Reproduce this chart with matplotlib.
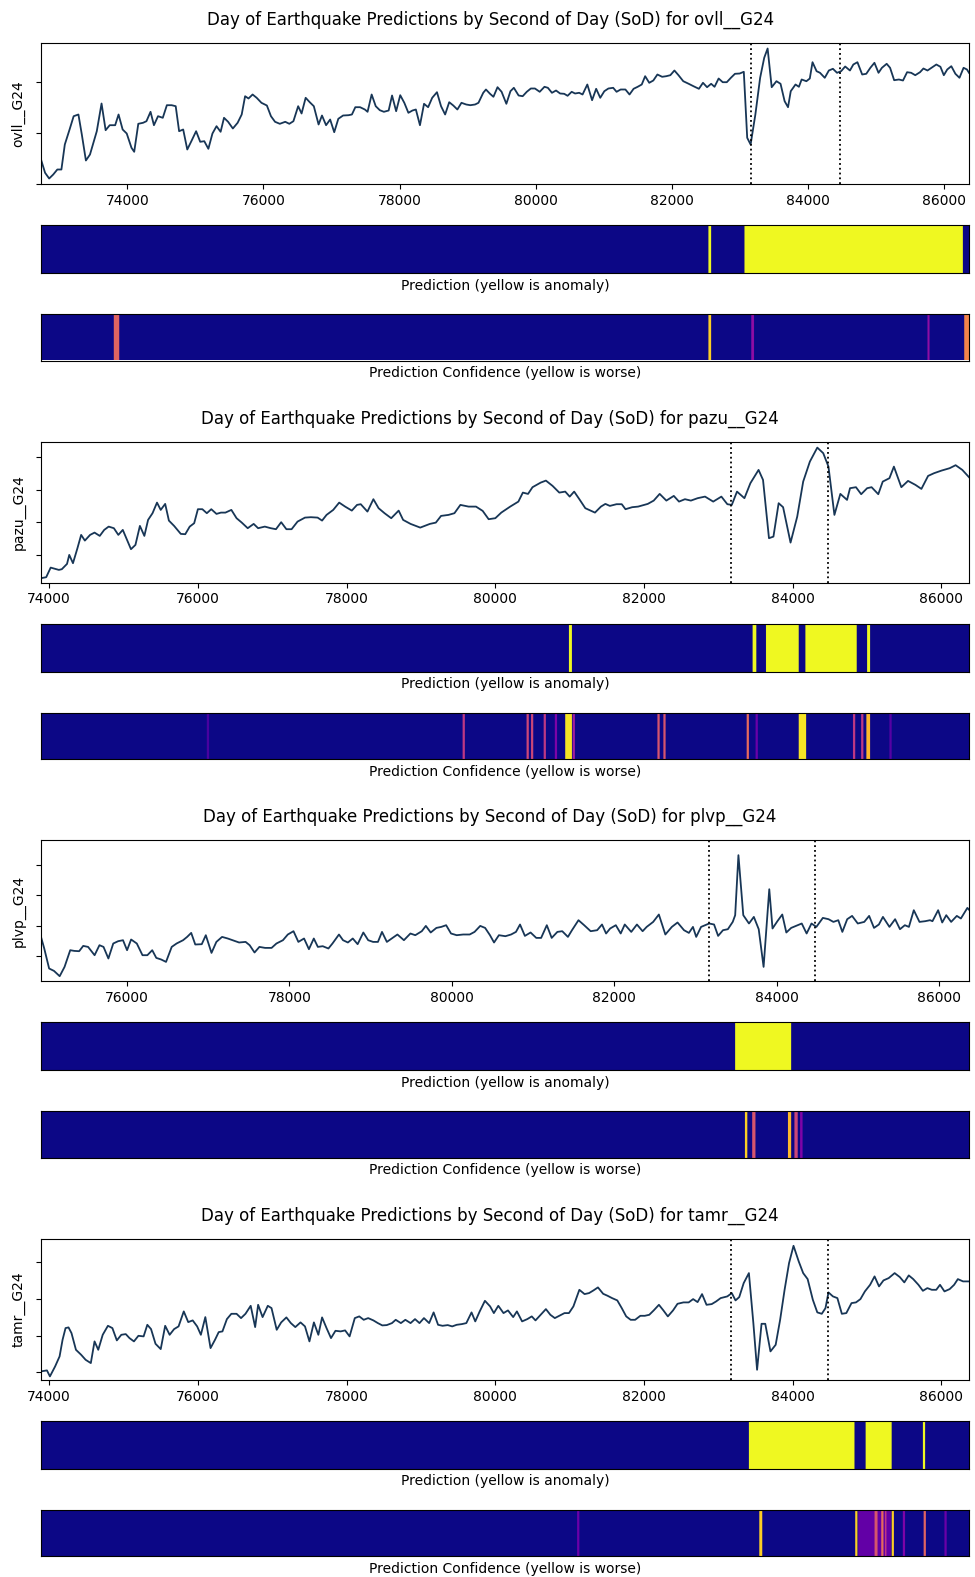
import numpy as np
import matplotlib.pyplot as plt

stations = ['ovll', 'pazu', 'plvp', 'tamr']
quake_window = [83170, 84470]

# --- ovll ---
ovll_sod = [72730, 72790, 72850, 72910, 72970, 73030, 73080, 73150, 73210, 73280,
            73330, 73390, 73450, 73550, 73620, 73680, 73740, 73820, 73870, 73930,
            73990, 74060, 74100, 74160, 74230, 74280, 74340, 74390, 74450, 74520,
            74580, 74650, 74710, 74760, 74820, 74880, 74940, 75010, 75070, 75130,
            75190, 75250, 75310, 75370, 75420, 75480, 75550, 75620, 75680, 75730,
            75780, 75840, 75900, 75970, 76050, 76110, 76170, 76240, 76320, 76380,
            76440, 76510, 76560, 76620, 76680, 76740, 76810, 76860, 76920, 76980,
            77040, 77100, 77170, 77250, 77300, 77350, 77420, 77490, 77530, 77590,
            77650, 77710, 77770, 77840, 77890, 77950, 78010, 78070, 78130, 78190,
            78240, 78300, 78360, 78420, 78480, 78550, 78610, 78670, 78730, 78790,
            78850, 78910, 78980, 79040, 79110, 79160, 79230, 79270, 79330,
            79380, 79440, 79500, 79570, 79630, 79680, 79750, 79810, 79870, 79930,
            79990, 80060, 80130, 80180, 80240, 80300, 80360, 80420, 80470, 80530,
            80580, 80640, 80690, 80760, 80830, 80890, 80950, 81010, 81070, 81140,
            81190, 81250, 81320, 81380, 81440, 81500, 81560, 81610, 81670, 81730,
            81790, 81860, 81920, 81980, 82040, 82100, 82170, 82250, 82320, 82400,
            82460, 82520, 82580, 82630, 82690, 82750, 82810, 82870, 82930, 83000,
            83060, 83110, 83160, 83230, 83300, 83360, 83410, 83470, 83540, 83600,
            83660, 83710, 83750, 83820, 83870, 83910, 83980, 84030, 84070, 84130,
            84180, 84250, 84310, 84370, 84430, 84490, 84550, 84620, 84670, 84730,
            84800, 84860, 84920, 84980, 85040, 85090, 85160, 85210, 85270, 85340,
            85400, 85460, 85520, 85580, 85650, 85700, 85760, 85830, 85890, 85950,
            86000, 86050, 86110, 86170, 86230, 86290, 86340, 86370]
ovll_val = [24.5, 11.2, 5.5, 9.5, 14.5, 14.5, 39.5, 54.5, 67.8, 69.5,
            49.5, 23.5, 29.5, 52.8, 80.5, 53.8, 58.8, 58.8, 69.5, 54.5,
            50.5, 36.2, 32.2, 60.2, 61.2, 62.8, 72.2, 58.8, 67.8, 66.2,
            78.8, 78.8, 77.8, 52.8, 54.5, 34.5, 42.8, 52.8, 42.2, 42.8,
            35.2, 50.5, 57.8, 52.2, 66.2, 62.2, 55.5, 61.2, 69.5, 87.8,
            85.5, 89.5, 86.2, 81.2, 78.5, 67.8, 62.2, 60.2, 62.2, 60.2,
            62.8, 77.8, 70.5, 86.2, 81.8, 77.8, 59.5, 68.5, 58.8, 64.5,
            51.8, 65.2, 68.5, 68.8, 69.5, 76.8, 76.8, 74.5, 72.2, 89.5,
            77.8, 73.8, 72.2, 73.5, 88.5, 72.8, 88.8, 81.2, 71.2, 73.5,
            74.5, 58.8, 80.2, 76.8, 86.2, 91.8, 77.8, 69.5, 81.8, 78.5,
            74.5, 81.2, 79.5, 78.8, 79.5, 81.2, 91.2, 94.5, 90.2,
            87.2, 96.8, 92.2, 80.2, 92.8, 96.2, 88.5, 87.8, 92.2, 95.5,
            95.5, 92.2, 97.2, 96.2, 91.2, 93.5, 90.5, 90.2, 88.2, 92.2,
            90.5, 91.2, 89.5, 99.5, 83.8, 95.2, 86.2, 92.8, 95.5, 96.2,
            92.2, 94.5, 94.5, 89.5, 95.2, 97.2, 99.5, 107.8, 101.2, 103.5,
            109.5, 107.2, 107.8, 108.8, 113.5, 108.8, 102.8, 100.2, 97.8, 95.2,
            101.2, 96.8, 100.2, 97.2, 105.5, 101.8, 101.8, 106.2, 110.2, 110.5,
            112.2, 46.2, 39.5, 69.5, 106.2, 126.2, 135.5, 96.8, 102.8, 100.2,
            82.8, 76.8, 92.8, 99.5, 97.2, 104.5, 102.8, 105.5, 121.8, 112.8,
            111.2, 106.2, 113.5, 115.2, 111.2, 112.8, 117.5, 113.5, 119.5, 121.8,
            109.5, 110.2, 116.2, 121.2, 111.2, 116.2, 120.2, 116.2, 103.8, 104.5,
            103.5, 111.8, 111.2, 108.8, 111.8, 115.5, 113.5, 116.8, 119.5, 117.2,
            108.8, 114.5, 117.8, 110.2, 106.2, 116.2, 114.5, 111.2]

# --- pazu ---
pazu_sod = [73890, 73960, 74020, 74130, 74170, 74240, 74270, 74320, 74380, 74430,
            74480, 74550, 74610, 74680, 74740, 74800, 74870, 74930, 74990, 75100,
            75160, 75220, 75280, 75330, 75390, 75450, 75500, 75560, 75610, 75680,
            75770, 75830, 75890, 75950, 76000, 76060, 76120, 76180, 76250, 76310,
            76370, 76450, 76520, 76590, 76670, 76750, 76810, 76900, 76980, 77050,
            77120, 77190, 77260, 77340, 77440, 77520, 77610, 77670, 77730, 77820,
            77900, 77980, 78070, 78140, 78190, 78280, 78360, 78430, 78510, 78600,
            78700, 78760, 78860, 78990, 79120, 79200, 79270, 79370, 79450, 79530,
            79640, 79740, 79830, 79910, 80000, 80080, 80200, 80310, 80370, 80440,
            80500, 80610, 80680, 80770, 80860, 80940, 81000, 81060, 81130, 81210,
            81340, 81420, 81480, 81540, 81630, 81700, 81750, 81840, 81920, 82050,
            82130, 82210, 82300, 82400, 82470, 82550, 82630, 82720, 82820, 82930,
            83040, 83120, 83180, 83250, 83350, 83430, 83540, 83600, 83680, 83740,
            83810, 83870, 83970, 84060, 84140, 84230, 84330, 84410, 84480, 84560,
            84640, 84730, 84770, 84850, 84920, 85000, 85060, 85150, 85210, 85300,
            85360, 85460, 85550, 85650, 85730, 85820, 85900, 86000, 86110, 86190,
            86280, 86370]
pazu_val = [4.4, 5.4, 15.0, 12.7, 13.4, 18.7, 27.7, 19.4, 34.4, 47.7,
            42.0, 47.7, 50.0, 46.7, 52.7, 56.0, 54.4, 47.7, 52.7, 33.4,
            37.7, 56.7, 46.7, 62.7, 69.4, 80.0, 72.7, 78.7, 62.0, 56.7,
            48.7, 48.4, 56.0, 59.4, 73.4, 73.4, 69.4, 73.4, 68.7, 70.0,
            70.0, 72.7, 64.4, 60.0, 54.4, 58.7, 54.4, 56.0, 54.4, 53.4,
            60.4, 53.4, 53.4, 61.0, 65.0, 65.4, 65.0, 62.0, 67.7, 72.7,
            80.0, 76.0, 72.0, 77.7, 78.4, 71.0, 83.4, 74.4, 69.4, 64.4,
            72.0, 62.7, 58.7, 55.0, 58.7, 60.0, 66.7, 67.7, 69.4, 77.7,
            76.0, 76.0, 71.7, 63.4, 64.4, 70.0, 76.0, 81.0, 90.0, 88.7,
            95.4, 100.0, 102.0, 96.7, 90.0, 91.0, 86.0, 91.0, 83.4, 74.4,
            70.0, 76.0, 78.7, 76.7, 78.4, 78.4, 73.4, 75.4, 76.0, 78.7,
            82.0, 88.7, 82.0, 86.7, 81.0, 83.4, 82.0, 84.4, 86.0, 81.0,
            86.0, 78.4, 77.7, 91.0, 84.4, 99.4, 112.7, 102.7, 44.4, 46.0,
            79.4, 75.4, 40.0, 66.0, 101.0, 121.0, 135.0, 129.4, 116.0, 67.7,
            88.7, 82.7, 94.4, 95.4, 88.4, 94.4, 95.4, 88.4, 101.0, 104.4,
            116.0, 95.4, 101.7, 97.7, 93.7, 106.7, 109.4, 112.0, 114.4, 117.4,
            112.7, 105.4]

# --- plvp ---
plvp_sod = [74940, 74980, 75040, 75100, 75170, 75230, 75300, 75350, 75410, 75460,
            75520, 75600, 75660, 75710, 75770, 75830, 75890, 75950, 76000, 76050,
            76120, 76190, 76250, 76310, 76360, 76420, 76480, 76550, 76610, 76690,
            76740, 76790, 76840, 76920, 76970, 77040, 77100, 77170, 77240, 77300,
            77380, 77460, 77510, 77570, 77630, 77700, 77780, 77840, 77920, 77980,
            78050, 78110, 78180, 78240, 78300, 78350, 78410, 78480, 78530, 78610,
            78660, 78720, 78780, 78840, 78910, 78970, 79030, 79090, 79140, 79200,
            79260, 79330, 79410, 79490, 79550, 79630, 79680, 79740, 79810, 79870,
            79930, 79990, 80060, 80140, 80220, 80280, 80350, 80410, 80470, 80520,
            80580, 80660, 80730, 80790, 80840, 80900, 80970, 81040, 81100, 81170,
            81230, 81300, 81360, 81430, 81480, 81560, 81630, 81710, 81790, 81850,
            81900, 81950, 82020, 82080, 82130, 82210, 82280, 82350, 82400, 82480,
            82550, 82630, 82710, 82780, 82860, 82920, 82970, 83010, 83070, 83170,
            83230, 83280, 83340, 83400, 83460, 83490, 83530, 83590, 83660, 83720,
            83780, 83840, 83910, 83950, 84010, 84070, 84120, 84180, 84260, 84310,
            84370, 84430, 84490, 84570, 84640, 84700, 84760, 84810, 84870, 84930,
            85000, 85080, 85140, 85200, 85260, 85310, 85390, 85460, 85520, 85580,
            85630, 85690, 85760, 85830, 85890, 85920, 85990, 86040, 86090, 86150,
            86220, 86270, 86350, 86370]
plvp_val = [44.3, 32.7, 12.7, 10.3, 5.0, 14.3, 31.0, 30.3, 30.0, 35.3,
            34.3, 26.0, 36.0, 34.3, 22.7, 37.7, 40.0, 41.0, 31.0, 41.7,
            37.7, 26.0, 26.0, 31.0, 23.3, 21.7, 19.3, 34.3, 37.7, 41.0,
            44.3, 48.3, 36.7, 37.0, 46.0, 28.3, 39.3, 44.3, 42.7, 41.0,
            38.7, 39.3, 36.0, 28.7, 34.3, 33.3, 33.3, 37.7, 41.0, 46.7,
            50.0, 39.3, 42.7, 32.0, 42.7, 34.3, 35.0, 32.7, 37.7, 46.7,
            41.0, 38.7, 42.7, 37.0, 48.7, 41.0, 39.3, 39.3, 49.3, 39.3,
            42.7, 46.7, 41.0, 47.7, 46.0, 50.0, 55.3, 48.7, 53.3, 54.3,
            56.0, 47.7, 46.0, 46.7, 46.7, 49.3, 55.3, 53.3, 46.0, 38.7,
            46.0, 45.0, 46.7, 49.3, 56.7, 45.3, 48.7, 43.3, 43.3, 56.0,
            43.3, 49.3, 50.0, 44.3, 51.0, 61.0, 56.0, 50.0, 51.0, 56.7,
            47.7, 52.7, 56.0, 47.7, 56.7, 49.3, 56.7, 50.0, 54.3, 59.3,
            66.7, 46.7, 54.3, 58.7, 51.0, 48.3, 54.3, 44.3, 54.3, 57.7,
            56.7, 45.3, 51.0, 52.0, 59.3, 66.0, 126.0, 66.0, 57.7, 64.3,
            52.0, 14.3, 92.0, 52.7, 60.0, 66.7, 48.7, 53.3, 56.0, 57.7,
            47.7, 57.7, 54.3, 63.3, 62.0, 59.3, 61.0, 49.3, 62.0, 65.3,
            57.7, 59.3, 65.3, 53.3, 56.7, 64.3, 54.3, 62.0, 52.0, 56.0,
            54.3, 71.0, 59.3, 60.0, 61.0, 60.0, 71.0, 58.7, 66.0, 59.3,
            65.3, 62.7, 73.3, 71.5]

# --- tamr ---
tamr_sod = [73890, 73970, 74010, 74080, 74140, 74180, 74220, 74260, 74300, 74360,
            74430, 74490, 74560, 74610, 74660, 74720, 74790, 74850, 74910, 74970,
            75030, 75080, 75140, 75200, 75270, 75320, 75370, 75430, 75500, 75560,
            75620, 75680, 75740, 75810, 75870, 75930, 75990, 76040, 76100, 76170,
            76230, 76280, 76330, 76390, 76450, 76520, 76580, 76640, 76710, 76770,
            76810, 76870, 76940, 76990, 77060, 77120, 77190, 77250, 77310, 77380,
            77440, 77500, 77560, 77620, 77670, 77730, 77790, 77850, 77920, 77980,
            78040, 78110, 78170, 78230, 78290, 78360, 78420, 78480, 78540, 78610,
            78660, 78730, 78790, 78860, 78920, 78980, 79040, 79110, 79170, 79230,
            79290, 79360, 79420, 79480, 79550, 79610, 79680, 79730, 79790, 79860,
            79930, 79980, 80040, 80110, 80170, 80240, 80290, 80360, 80430, 80490,
            80540, 80610, 80680, 80740, 80800, 80860, 80930, 80990, 81050, 81130,
            81200, 81260, 81320, 81380, 81450, 81510, 81570, 81640, 81700, 81760,
            81820, 81880, 81950, 82010, 82070, 82130, 82200, 82260, 82320, 82390,
            82450, 82530, 82600, 82660, 82720, 82780, 82840, 82910, 82970, 83030,
            83120, 83180, 83230, 83280, 83340, 83410, 83470, 83520, 83580, 83630,
            83700, 83770, 83830, 83890, 83950, 84010, 84080, 84140, 84200, 84270,
            84330, 84390, 84440, 84480, 84540, 84600, 84660, 84720, 84790, 84850,
            84910, 84970, 85040, 85100, 85160, 85220, 85290, 85370, 85440, 85500,
            85560, 85620, 85690, 85750, 85810, 85870, 85930, 85980, 86040, 86110,
            86170, 86220, 86290, 86370]
tamr_val = [8.4, 9.4, 3.4, 13.4, 23.4, 40.0, 51.7, 52.4, 46.7, 30.0,
            25.0, 20.0, 16.7, 38.4, 30.0, 45.0, 54.0, 51.7, 39.4, 45.0,
            45.7, 41.7, 38.4, 44.0, 43.4, 55.0, 50.7, 36.0, 30.7, 54.0,
            45.0, 50.7, 53.4, 68.4, 57.7, 59.4, 53.4, 45.0, 62.7, 31.7,
            40.0, 47.7, 48.4, 60.7, 66.0, 66.0, 61.7, 66.0, 74.0, 52.7,
            75.0, 62.7, 74.0, 71.7, 50.0, 57.4, 62.4, 56.7, 52.7, 57.4,
            53.4, 38.4, 57.4, 45.0, 62.4, 51.7, 41.7, 49.0, 48.4, 49.4,
            43.4, 61.7, 63.4, 60.0, 61.7, 59.4, 56.7, 54.4, 54.7, 56.7,
            60.0, 56.7, 60.0, 56.7, 60.7, 56.7, 61.7, 56.7, 67.4, 55.0,
            54.0, 54.7, 53.4, 55.0, 55.7, 56.7, 67.4, 58.4, 68.4, 79.0,
            73.4, 66.7, 74.0, 66.7, 69.4, 62.7, 68.4, 58.4, 60.7, 63.4,
            59.4, 65.0, 70.7, 65.0, 61.7, 64.0, 66.7, 66.7, 73.4, 90.0,
            85.7, 86.7, 89.4, 92.4, 86.0, 84.0, 81.7, 79.4, 71.7, 63.4,
            60.0, 60.0, 64.0, 64.0, 65.0, 69.4, 75.0, 69.4, 63.4, 69.4,
            76.0, 77.4, 77.4, 80.7, 77.7, 85.7, 75.0, 75.7, 78.4, 81.7,
            83.4, 86.7, 79.4, 82.7, 96.7, 106.7, 56.7, 10.0, 56.0, 56.0,
            28.4, 35.0, 60.0, 90.0, 116.7, 134.0, 118.4, 106.7, 100.7, 80.0,
            67.4, 66.0, 71.7, 87.4, 83.4, 81.7, 66.0, 66.7, 76.7, 77.4,
            80.7, 88.4, 95.0, 103.4, 93.4, 99.4, 101.7, 106.7, 102.7, 97.4,
            104.4, 100.7, 95.0, 89.0, 91.7, 90.0, 90.0, 95.0, 88.4, 90.7,
            95.0, 100.7, 98.4, 98.4]

# anomaly predictions: (start SoD, end SoD)
ovll_pred = [(82540, 82580), (83070, 86280)]
pazu_pred = [(80990, 81030), (83460, 83510), (83640, 84080), (84170, 84860), (85000, 85040)]
plvp_pred = [(83490, 84180)]
tamr_pred = [(83410, 84830), (84980, 85330), (85750, 85780)]

# confidence score (0 = confident, 1 = worst): (start SoD, end SoD, score)
ovll_conf = [(73800, 73880, 0.6), (82540, 82580, 0.9), (83170, 83210, 0.3),
             (85760, 85790, 0.3), (86300, 86370, 0.7)]
pazu_conf = [(76120, 76150, 0.12), (79560, 79590, 0.45), (80420, 80450, 0.5),
             (80480, 80510, 0.5), (80650, 80680, 0.45), (80800, 80830, 0.25),
             (80940, 81030, 0.95), (81040, 81070, 0.35), (82180, 82210, 0.55),
             (82260, 82290, 0.55), (83380, 83410, 0.62), (83500, 83530, 0.2),
             (84080, 84180, 0.95), (84810, 84840, 0.45), (84920, 84950, 0.45),
             (84990, 85040, 0.85), (85300, 85330, 0.15)]
plvp_conf = [(83610, 83640, 0.9), (83700, 83740, 0.55), (84140, 84180, 0.85),
             (84220, 84260, 0.5), (84290, 84320, 0.25)]
tamr_conf = [(81100, 81130, 0.2), (83550, 83590, 0.9), (84840, 84870, 0.9),
             (84880, 85320, 0.18), (85100, 85140, 0.55), (85190, 85220, 0.62),
             (85240, 85260, 0.45), (85330, 85360, 0.9), (85480, 85510, 0.25),
             (85760, 85790, 0.6), (86040, 86070, 0.2)]

# y tick marks (labels hidden)
ovll_yticks = [0, 51, 102]
pazu_yticks = [28, 60.5, 93, 125.5]
plvp_yticks = [25, 55.5, 86, 116]
tamr_yticks = [7.7, 44.3, 80.9, 117.4]

series = {
    'ovll': (ovll_sod, ovll_val, ovll_pred, ovll_conf, ovll_yticks),
    'pazu': (pazu_sod, pazu_val, pazu_pred, pazu_conf, pazu_yticks),
    'plvp': (plvp_sod, plvp_val, plvp_pred, plvp_conf, plvp_yticks),
    'tamr': (tamr_sod, tamr_val, tamr_pred, tamr_conf, tamr_yticks),
}


def strip(ax, x0, x1, segments, label):
    # paint segments onto a 10 s grid, shown with the plasma map
    grid = np.arange(x0, x1, 10)
    vals = np.zeros(len(grid))
    for seg in segments:
        v = seg[2] if len(seg) > 2 else 1.0
        vals[(grid >= seg[0]) & (grid < seg[1])] = v
    ax.imshow(vals[np.newaxis, :], cmap='plasma', vmin=0, vmax=1, aspect='auto',
              extent=(x0, x1, 0, 1))
    ax.set_xticks([])
    ax.set_yticks([])
    ax.set_xlabel(label, fontsize=10)


W, H = 975, 1577
fig = plt.figure(figsize=(W / 100, H / 100), dpi=100)

for i, name in enumerate(stations):
    sod, val, pred, conf, yt = series[name]
    x0, x1 = sod[0], sod[-1]
    top = 43 + 398.6 * i

    ax = fig.add_axes([41 / W, 1 - (top + 141) / H, 928 / W, 141 / H])
    ax.plot(sod, val, color='#183656', lw=1.3)
    for q in quake_window:
        ax.axvline(q, color='k', ls=':', lw=1.3)
    ax.set_xlim(x0, x1)
    ax.set_ylim(0, 141)
    ax.set_xticks(np.arange(int(np.ceil(x0 / 2000)) * 2000, x1, 2000))
    ax.set_yticks(yt)
    ax.set_yticklabels([])
    ax.tick_params(labelsize=10)
    ax.set_ylabel(f'{name}__G24', fontsize=10)
    ax.set_title(f'Day of Earthquake Predictions by Second of Day (SoD) for {name}__G24',
                 fontsize=12, pad=13, x=0.484)

    ax_p = fig.add_axes([41 / W, 1 - (top + 230) / H, 928 / W, 48 / H])
    strip(ax_p, x0, x1, pred, 'Prediction (yellow is anomaly)')

    ax_c = fig.add_axes([41 / W, 1 - (top + 317.5) / H, 928 / W, 46.5 / H])
    strip(ax_c, x0, x1, conf, 'Prediction Confidence (yellow is worse)')

fig.savefig('out.png', dpi=100)
